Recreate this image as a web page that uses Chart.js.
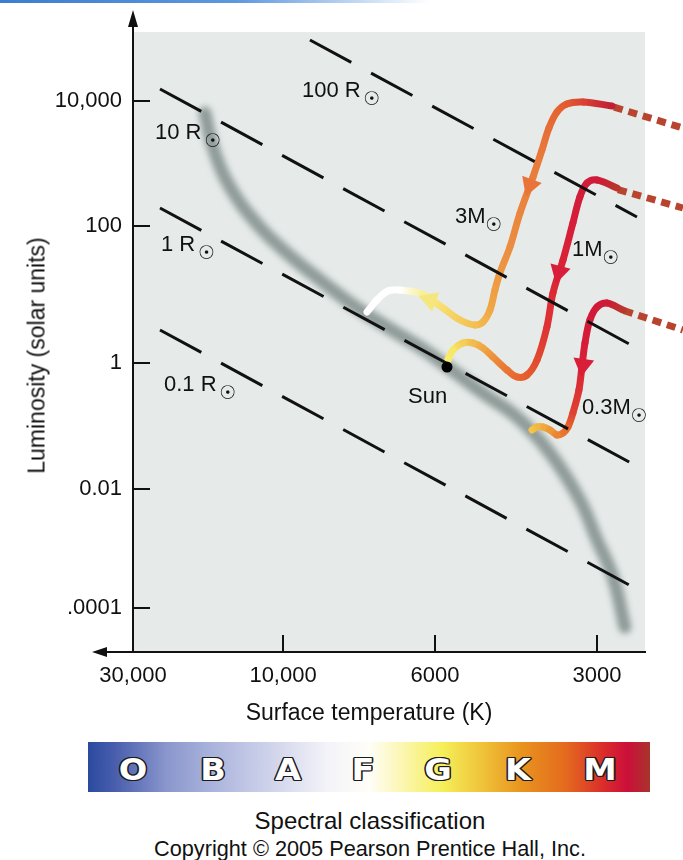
<!DOCTYPE html>
<html>
<head>
<meta charset="utf-8">
<script src="https://cdn.jsdelivr.net/npm/chart.js@4.4.0/dist/chart.umd.min.js"></script>
<style>
html,body{margin:0;padding:0;background:#fff;}
body{width:683px;height:860px;position:relative;overflow:hidden;font-family:"Liberation Sans",Arial,Helvetica,sans-serif;color:#111;}
#c{position:absolute;left:0;top:0;width:683px;height:735px;}
.topline{position:absolute;left:0;top:0;width:430px;height:3px;z-index:2;background:linear-gradient(to right,#3d7dcf,#5d98de 55%,rgba(160,195,235,0));}
.xtitle{position:absolute;left:219px;top:701px;width:300px;text-align:center;font-size:23px;line-height:23px;white-space:nowrap;}
.ytitle{position:absolute;left:-113.5px;top:343.5px;width:300px;height:23px;text-align:center;font-size:23px;line-height:23px;white-space:nowrap;transform:rotate(-90deg);}
.spec{position:absolute;left:88px;top:742px;width:562px;height:50px;
background:linear-gradient(to right,#2b4a9d 0%,#4a5fae 5%,#8a96cc 14%,#aab3dc 22%,#d8dbee 35%,#f4f4f9 43%,#fffef8 50%,#fbf6b0 56%,#f6ef5a 63%,#efc43a 70%,#e9941f 77%,#e46a1e 85%,#d92a2c 92%,#cc0f3a 96%,#a8342c 100%);}
.spec span{position:absolute;top:13px;width:60px;text-align:center;font-family:"DejaVu Sans",sans-serif;font-weight:bold;font-size:30px;line-height:30px;color:#fff;
text-shadow:1.3px 0 0 #1c1c1c,-1.3px 0 0 #1c1c1c,0 1.3px 0 #1c1c1c,0 -1.3px 0 #1c1c1c,1px 1px 0 #1c1c1c,-1px 1px 0 #1c1c1c,1px -1px 0 #1c1c1c,-1px -1px 0 #1c1c1c;
transform:scaleX(1.12);}
.cap1{position:absolute;left:170px;top:809px;width:400px;text-align:center;font-size:24px;line-height:24px;white-space:nowrap;}
.cap2{position:absolute;left:120px;top:838px;width:500px;text-align:center;font-size:21.7px;line-height:22px;white-space:nowrap;}
</style>
</head>
<body>
<div class="topline"></div>
<canvas id="c" width="683" height="735"></canvas>
<div class="xtitle">Surface temperature (K)</div>
<div class="ytitle">Luminosity (solar units)</div>
<div class="spec" id="spec"></div>
<div class="cap1">Spectral classification</div>
<div class="cap2">Copyright © 2005 Pearson Prentice Hall, Inc.</div>
<script>
// ---------------- DATA ----------------
// x: position along the (schematic) temperature axis, in units of tick spacing
// y: log10 of luminosity (schematic)
const xTickLabels = ['30,000', '10,000', '6000', '3000'];
const xTickPos    = [0, 0.97, 1.952, 3.0];
const yTickLabels = ['10,000', '100', '1', '0.01', '.0001'];
const yTickPos    = [4.0, 2.02, -0.136, -2.123, -4.0];

const spectralClasses = ['O', 'B', 'A', 'F', 'G', 'K', 'M'];

// main sequence
const msX = [0.465, 0.517, 0.627, 0.808, 0.995, 1.209, 1.422, 1.642, 1.855, 2.036, 2.262, 2.482, 2.696, 2.889, 3.000, 3.103, 3.180];
const msY = [3.808, 3.271, 2.640, 2.041, 1.599, 1.174, 0.779, 0.432, 0.117, -0.199, -0.609, -0.987, -1.555, -2.297, -2.927, -3.511, -4.300];

// lines of constant radius
const radiusNames = ['100 R', '10 R', '1 R', '0.1 R'];
const radiusX = [[1.144, 3.258], [0.1745, 3.232], [0.1745, 3.232], [0.1745, 3.232]];
const radiusY = [[4.959, 2.167], [4.186, 0.132], [2.309, -1.729], [0.385, -3.669]];

// pre-main-sequence tracks
const track3X = [3.096, 2.909, 2.805, 2.741, 2.689, 2.644, 2.586, 2.502, 2.437, 2.372, 2.340, 2.308, 2.262, 2.211, 2.114, 2.004, 1.868, 1.726, 1.648, 1.577, 1.513];
const track3Y = [3.918, 3.981, 3.950, 3.823, 3.571, 3.224, 2.798, 2.230, 1.694, 1.284, 1.016, 0.700, 0.511, 0.464, 0.543, 0.732, 0.953, 1.016, 1.000, 0.858, 0.669];
const track3DotX = [3.110, 3.555];
const track3DotY = [3.900, 3.571];

const track1X = [3.129, 3.000, 2.935, 2.889, 2.844, 2.780, 2.715, 2.676, 2.612, 2.547, 2.482, 2.418, 2.327, 2.262, 2.198, 2.133, 2.069, 2.036, 2.030];
const track1Y = [2.625, 2.751, 2.703, 2.483, 2.073, 1.489, 0.968, 0.432, -0.088, -0.325, -0.356, -0.246, -0.041, 0.101, 0.180, 0.180, 0.069, -0.088, -0.199];
const track1DotX = [3.135, 3.555];
const track1DotY = [2.600, 2.309];

const track03X = [3.167, 3.064, 3.000, 2.954, 2.922, 2.902, 2.883, 2.844, 2.812, 2.780, 2.741, 2.696, 2.650, 2.612, 2.579];
const track03Y = [0.700, 0.811, 0.748, 0.543, 0.180, -0.199, -0.562, -0.924, -1.145, -1.240, -1.271, -1.192, -1.145, -1.145, -1.192];
const track03DotX = [3.175, 3.555];
const track03DotY = [0.690, 0.385];

// direction arrows on the tracks
const arrowX = [2.566, 1.920, 2.754, 2.909];
const arrowY = [2.672, 0.858, 1.300, -0.167];
const arrowRot = [200, 290, 195, 188];
const arrowColor = ['#e8743a', '#f6e67e', '#d81e38', '#d81e38'];

// the Sun
const sunX = [2.030];
const sunY = [-0.199];

// text annotations
const annotText = ['100 R', '10 R', '1 R', '0.1 R', '3M', '1M', '0.3M', 'Sun'];
const annotX = [1.092, 0.142, 0.181, 0.200, 2.081, 2.838, 2.902, 1.778];
const annotY = [4.155, 3.492, 1.726, -0.483, 2.167, 1.647, -0.845, -0.672];
const annotSun = [true, true, true, true, true, true, true, false];

// ---------------- STYLE HELPERS ----------------
const FONT = '"Liberation Sans", Arial, Helvetica, sans-serif';
function parseStops(arr){
  return arr.map(([t,h]) => [t, [parseInt(h.slice(1,3),16), parseInt(h.slice(3,5),16), parseInt(h.slice(5,7),16)]]);
}
function colorAt(stops, t){
  t = Math.max(0, Math.min(1, t));
  for (let i = 1; i < stops.length; i++){
    if (t <= stops[i][0]){
      const [t0,c0] = stops[i-1], [t1,c1] = stops[i];
      const f = (t - t0) / ((t1 - t0) || 1);
      return 'rgb(' + c0.map((v,k) => Math.round(v + (c1[k]-v)*f)).join(',') + ')';
    }
  }
  const c = stops[stops.length-1][1];
  return 'rgb(' + c.join(',') + ')';
}
function fractions(meta){
  const p = meta.data; const L = [0];
  for (let i = 1; i < p.length; i++) L.push(L[i-1] + Math.hypot(p[i].x - p[i-1].x, p[i].y - p[i-1].y));
  const tot = L[L.length-1] || 1;
  return L.map(l => l / tot);
}
function gradSeg(stops){
  return sc => {
    const chart = sc.chart;
    const fr = fractions(chart.getDatasetMeta(sc.datasetIndex));
    const g = chart.ctx.createLinearGradient(sc.p0.x, sc.p0.y, sc.p1.x, sc.p1.y);
    g.addColorStop(0, colorAt(stops, fr[sc.p0DataIndex]));
    g.addColorStop(1, colorAt(stops, fr[sc.p1DataIndex]));
    return g;
  };
}
const stops3 = parseStops([[0,'#c01f35'],[0.06,'#d83a33'],[0.12,'#e4612f'],[0.24,'#e8783a'],[0.5,'#eb8e40'],[0.65,'#f0a845'],[0.70,'#f4bf52'],[0.79,'#f7df6e'],[0.85,'#f9f09c'],[0.9,'#ffffff'],[1,'#ffffff']]);
const stops1 = parseStops([[0,'#b8352c'],[0.06,'#cf1a3a'],[0.3,'#d91f38'],[0.55,'#de3432'],[0.64,'#e24a2e'],[0.73,'#e86a30'],[0.8,'#ec8a36'],[0.89,'#f2c050'],[0.95,'#f8e868'],[1,'#f8ee70']]);
const stops03 = parseStops([[0,'#b8372c'],[0.1,'#cf1838'],[0.4,'#d81c38'],[0.7,'#df3e30'],[0.8,'#e56a2c'],[0.88,'#ec8e34'],[1,'#f4c448']]);

const toXY = (xs, ys) => xs.map((x,i) => ({x: x, y: ys[i]}));

function trackDS(label, xs, ys, stops){
  return {label, data: toXY(xs, ys), borderWidth: 7, tension: 0.35, pointRadius: 0,
    borderCapStyle: 'round', borderJoinStyle: 'round', borderColor: '#d81e38', order: 6,
    segment: {borderColor: gradSeg(stops), borderDashOffset: sc => sc.p0DataIndex * 0.001}};
}
function dotDS(label, xs, ys){
  return {label, data: toXY(xs, ys), borderWidth: 7, borderDash: [9, 6], borderColor: '#b8432e',
    pointRadius: 0, tension: 0, clip: false, order: 7, borderCapStyle: 'butt'};
}

const datasets = [];
datasets.push({label: 'Main sequence', data: toXY(msX, msY), borderColor: 'rgba(138,151,148,0.95)', borderWidth: 13,
  tension: 0.4, pointRadius: 0, order: 10, glow: true, borderCapStyle: 'round'});
radiusNames.forEach((n, i) => datasets.push({label: n, data: toXY(radiusX[i], radiusY[i]), borderColor: '#111',
  borderWidth: 3, borderDash: [47, 22.5], pointRadius: 0, tension: 0, order: 4, borderCapStyle: 'butt'}));
datasets.push(trackDS('3M', track3X, track3Y, stops3));
datasets.push(trackDS('1M', track1X, track1Y, stops1));
datasets.push(trackDS('0.3M', track03X, track03Y, stops03));
datasets.push(dotDS('3M protostar', track3DotX, track3DotY));
datasets.push(dotDS('1M protostar', track1DotX, track1DotY));
datasets.push(dotDS('0.3M protostar', track03DotX, track03DotY));
datasets.push({label: 'arrows', data: toXY(arrowX, arrowY), showLine: false, pointStyle: 'triangle', pointRadius: 12,
  pointRotation: arrowRot, pointBackgroundColor: arrowColor, pointBorderWidth: 0, pointBorderColor: arrowColor, order: 2});
datasets.push({label: 'Sun', data: toXY(sunX, sunY), showLine: false, pointRadius: 5.5, pointBackgroundColor: '#000',
  pointBorderWidth: 0, order: 1});

const decor = {
  id: 'decor',
  beforeDraw(chart){
    const {ctx, chartArea: a} = chart;
    ctx.save(); ctx.fillStyle = '#e6ebea';
    ctx.fillRect(a.left, a.top, a.right - a.left, a.bottom - a.top);
    ctx.restore();
  },
  beforeDatasetDraw(chart, args){
    if (chart.data.datasets[args.index].glow){ chart.ctx.save(); chart.ctx.filter = 'blur(3px)'; }
  },
  afterDatasetDraw(chart, args){
    if (chart.data.datasets[args.index].glow){ chart.ctx.restore(); }
  },
  afterDraw(chart){
    const {ctx, chartArea: a, scales: {x, y}} = chart;
    ctx.save();
    ctx.strokeStyle = '#111'; ctx.fillStyle = '#111'; ctx.lineWidth = 2;
    // inward tick marks
    ctx.beginPath();
    y.ticks.forEach(t => { const py = Math.round(y.getPixelForValue(t.value)); ctx.moveTo(a.left, py); ctx.lineTo(a.left + 17, py); });
    x.ticks.forEach(t => { const px = Math.round(x.getPixelForValue(t.value)); ctx.moveTo(px, a.bottom); ctx.lineTo(px, a.bottom - 17); });
    ctx.stroke();
    // axis extensions and arrow heads
    ctx.beginPath();
    ctx.moveTo(a.left, a.top); ctx.lineTo(a.left, 24);
    ctx.moveTo(a.left, a.bottom); ctx.lineTo(104, a.bottom);
    ctx.stroke();
    ctx.beginPath();
    ctx.moveTo(a.left, 10); ctx.lineTo(a.left - 5, 27); ctx.lineTo(a.left + 5, 27); ctx.closePath();
    ctx.moveTo(92, a.bottom); ctx.lineTo(107, a.bottom - 5); ctx.lineTo(107, a.bottom + 5); ctx.closePath();
    ctx.fill();
    // annotations
    ctx.textBaseline = 'middle'; ctx.textAlign = 'left';
    annotText.forEach((t, i) => {
      const px = x.getPixelForValue(annotX[i]), py = y.getPixelForValue(annotY[i]);
      ctx.font = '22px ' + FONT;
      ctx.fillText(t, px, py);
      if (annotSun[i]){
        const w = ctx.measureText(t).width;
        ctx.font = '19px "DejaVu Sans", sans-serif';
        ctx.fillText('\u2609', px + w + (t.endsWith('R') ? 3 : 0), py + 9);
      }
    });
    ctx.restore();
  }
};

new Chart(document.getElementById('c'), {
  type: 'line',
  data: {datasets},
  options: {
    responsive: false, animation: false, devicePixelRatio: 1,
    layout: {padding: {left: 0, right: 38, top: 32, bottom: 0}},
    plugins: {legend: {display: false}, tooltip: {enabled: false}},
    scales: {
      x: {type: 'linear', min: 0, max: 3.31, bounds: 'data',
        afterBuildTicks: s => { s.ticks = xTickPos.map(v => ({value: v})); },
        ticks: {callback: (v, i) => xTickLabels[i], color: '#111', font: {size: 22, family: FONT}, padding: 11, maxRotation: 0, autoSkip: false},
        grid: {display: false, drawTicks: false},
        border: {display: true, color: '#111', width: 2},
        afterFit: s => { s.height = 735 - 652; }
      },
      y: {type: 'linear', min: -4.694, max: 5.085, bounds: 'data',
        afterBuildTicks: s => { s.ticks = yTickPos.map(v => ({value: v})); },
        ticks: {callback: (v, i) => yTickLabels[i], color: '#111', font: {size: 22, family: FONT}, padding: 11, autoSkip: false},
        grid: {display: false, drawTicks: false},
        border: {display: true, color: '#111', width: 2},
        afterFit: s => { s.width = 133; }
      }
    }
  },
  plugins: [decor]
});

// spectral class strip
const spec = document.getElementById('spec');
const specCenters = [45, 125, 200, 275, 350, 430, 512];
spectralClasses.forEach((c, i) => {
  const s = document.createElement('span');
  s.textContent = c;
  s.style.left = (specCenters[i] - 30) + 'px';
  spec.appendChild(s);
});
</script>
</body>
</html>
